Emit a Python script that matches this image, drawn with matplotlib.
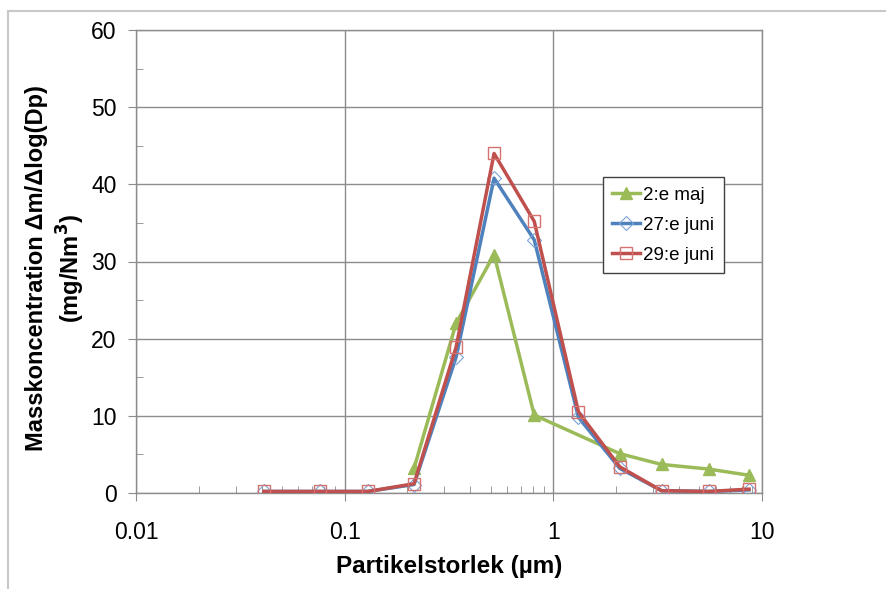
import matplotlib.pyplot as plt
from matplotlib.lines import Line2D
from matplotlib.ticker import FixedLocator, LogLocator, NullFormatter

plt.rcParams['font.family'] = ['Liberation Sans', 'DejaVu Sans']

# particle size (um)
x = [0.041, 0.076, 0.129, 0.215, 0.342, 0.52, 0.81, 1.32, 2.08, 3.30, 5.56, 8.66]
x_maj = [0.215, 0.342, 0.52, 0.81, 2.08, 3.30, 5.56, 8.66]

maj_2 = [3.2, 22.0, 30.9, 10.1, 5.1, 3.7, 3.1, 2.3]
jun_27 = [0.2, 0.2, 0.2, 1.1, 17.6, 40.8, 32.8, 9.8, 3.2, 0.3, 0.2, 0.4]
jun_29 = [0.2, 0.2, 0.2, 1.2, 18.9, 44.0, 35.2, 10.5, 3.4, 0.3, 0.2, 0.5]

labels = ['2:e maj', '27:e juni', '29:e juni']
green = '#9BBB59'
blue = '#4F81BD'
red = '#C0504D'

fig = plt.figure(figsize=(8.87, 5.89), dpi=100)
ax = fig.add_axes([136/887, 1 - 493/589, (762-136)/887, (493-30)/589])

# outer chart-area border (top and left visible)
fig.add_artist(Line2D([8/887, 1], [1 - 11/589, 1 - 11/589], color='#c8c8c8', lw=1.5))
fig.add_artist(Line2D([8/887, 8/887], [0, 1 - 11/589], color='#c8c8c8', lw=1.5))

ax.plot(x_maj, maj_2, color=green, lw=2.5, marker='^', ms=8,
        mfc=green, mec=green, label=labels[0], zorder=3)
ax.plot(x, jun_27, color=blue, lw=2.5, marker='D', ms=7,
        mfc='none', mec='#7aa3d6', mew=0.8, label=labels[1], zorder=4)
ax.plot(x, jun_29, color=red, lw=2.5, marker='s', ms=9,
        mfc='none', mec='#d47270', mew=1.0, label=labels[2], zorder=5)

ax.set_xscale('log')
ax.set_xlim(0.01, 10)
ax.set_ylim(0, 60)
ax.xaxis.set_major_locator(FixedLocator([0.01, 0.1, 1, 10]))
ax.xaxis.set_minor_locator(LogLocator(base=10, subs=range(2, 10)))
ax.xaxis.set_minor_formatter(NullFormatter())
ax.set_xticklabels(['0.01', '0.1', '1', '10'])
ax.set_yticks(range(0, 61, 10))
ax.set_yticks(range(5, 60, 10), minor=True)

ax.grid(True, which='major', color='#8c8c8c', lw=1.0)
ax.set_axisbelow(True)
for s in ax.spines.values():
    s.set_color('#8c8c8c')
    s.set_linewidth(1.0)

ax.tick_params(which='major', direction='out', length=6, color='#8c8c8c',
               labelsize=16.5, pad=8)
ax.tick_params(which='minor', direction='in', length=5, color='#8c8c8c')
ax.tick_params(axis='x', which='major', pad=14)

fig.text(449/887, 1 - 566/589, 'Partikelstorlek (µm)', fontsize=17.5,
         fontweight='bold', ha='center', va='center')
fig.text(56/887, 1 - 268/589, 'Masskoncentration Δm/Δlog(Dp)\n(mg/Nm$^\\mathbf{3}$)',
         fontsize=17, fontweight='bold', rotation=90, ha='center', va='center',
         multialignment='center', linespacing=1.3)

leg = ax.legend(loc='upper left', bbox_to_anchor=((603-136)/626, (493-177)/463),
                fontsize=13.5, frameon=True, fancybox=False, edgecolor='#404040',
                framealpha=1, borderpad=0.5, labelspacing=0.7, handlelength=1.5,
                handletextpad=0.15, borderaxespad=0)
leg.get_frame().set_linewidth(1.0)

fig.savefig('out.png', dpi=100)
